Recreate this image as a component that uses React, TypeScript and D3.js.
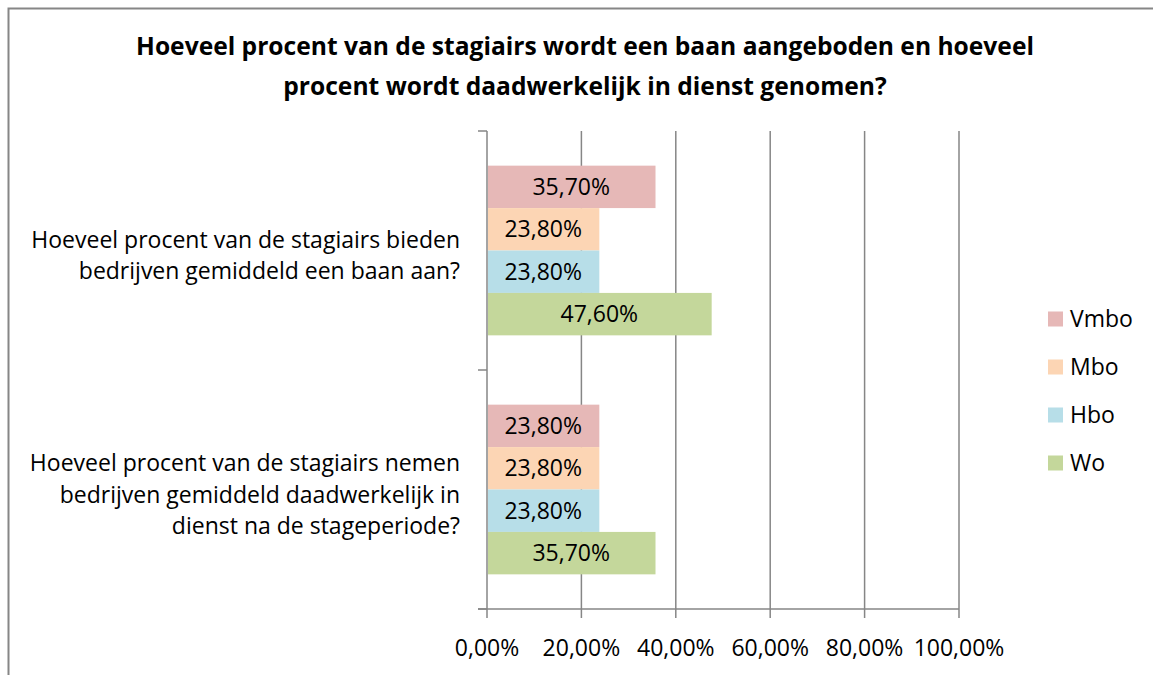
import { useRef, useEffect } from 'react';
import * as d3 from 'd3';

// Chart data
const titleLines = [
  'Hoeveel procent van de stagiairs wordt een baan aangeboden en hoeveel',
  'procent wordt daadwerkelijk in dienst genomen?',
];
const categories = ['bieden', 'nemen'];
const categoryLabels = [
  ['Hoeveel procent van de stagiairs bieden', 'bedrijven gemiddeld een baan aan?'],
  ['Hoeveel procent van de stagiairs nemen', 'bedrijven gemiddeld daadwerkelijk in', 'dienst na de stageperiode?'],
];
const seriesNames = ['Vmbo', 'Mbo', 'Hbo', 'Wo'];
const seriesColors = ['#e6b8b7', '#fcd5b4', '#b7dee8', '#c4d79b'];
const vmbo = [35.7, 23.8];
const mbo = [23.8, 23.8];
const hbo = [23.8, 23.8];
const wo = [47.6, 35.7];
const xTicks = [0, 20, 40, 60, 80, 100];

const seriesValues = [vmbo, mbo, hbo, wo];
const fmt = (v: number) => v.toFixed(2).replace('.', ',') + '%';

export default function App() {
  const svgRef = useRef<SVGSVGElement>(null);

  useEffect(() => {
    if (!svgRef.current) return;
    const svg = d3.select(svgRef.current);
    svg.selectAll('*').remove();

    const width = 1153;
    const height = 675;
    const font = '"Open Sans", sans-serif';
    const plot = { left: 487, right: 959, top: 131, bottom: 609 };
    const grid = '#868686';
    const fs = 23;

    svg.append('rect').attr('width', width).attr('height', height).attr('fill', '#fff');

    // outer border (only top and left visible in crop)
    svg.append('path')
      .attr('d', `M8.5,${height} V8.5 H${width}`)
      .attr('fill', 'none')
      .attr('stroke', '#868686')
      .attr('stroke-width', 2);

    // title
    svg.append('g')
      .selectAll('text')
      .data(titleLines)
      .join('text')
      .attr('x', 585)
      .attr('y', (_, i) => 55 + i * 40)
      .attr('text-anchor', 'middle')
      .attr('font-family', font)
      .attr('font-weight', 'bold')
      .attr('font-size', 24.6)
      .attr('fill', '#000')
      .text((d) => d);

    const x = d3.scaleLinear().domain([0, 100]).range([plot.left, plot.right]);
    const y = d3.scaleBand().domain(categories).range([plot.top, plot.bottom]).padding(0);
    const gap = y.bandwidth() * 0.145;
    const ys = d3.scaleBand()
      .domain(seriesNames)
      .range([gap, y.bandwidth() - gap])
      .padding(0);

    // vertical gridlines
    svg.append('g')
      .selectAll('line')
      .data(xTicks.slice(1))
      .join('line')
      .attr('x1', (d) => x(d))
      .attr('x2', (d) => x(d))
      .attr('y1', plot.top)
      .attr('y2', plot.bottom + 9)
      .attr('stroke', grid)
      .attr('stroke-width', 1.5);

    // x axis baseline + tick at 0
    svg.append('line')
      .attr('x1', plot.left - 9)
      .attr('x2', plot.right)
      .attr('y1', plot.bottom)
      .attr('y2', plot.bottom)
      .attr('stroke', grid)
      .attr('stroke-width', 1.5);
    svg.append('line')
      .attr('x1', plot.left)
      .attr('x2', plot.left)
      .attr('y1', plot.top)
      .attr('y2', plot.bottom + 9)
      .attr('stroke', grid)
      .attr('stroke-width', 1.5);

    // category ticks on y axis
    const catEdges = [plot.top, ...categories.map((c) => y(c)! + y.bandwidth())];
    svg.append('g')
      .selectAll('line')
      .data(catEdges)
      .join('line')
      .attr('x1', plot.left - 9)
      .attr('x2', plot.left)
      .attr('y1', (d) => d)
      .attr('y2', (d) => d)
      .attr('stroke', grid)
      .attr('stroke-width', 1.5);

    // bars
    categories.forEach((c, ci) => {
      const g = svg.append('g').attr('transform', `translate(0,${y(c)})`);
      seriesNames.forEach((s, si) => {
        const v = seriesValues[si][ci];
        g.append('rect')
          .attr('x', x(0) + 1)
          .attr('y', ys(s)!)
          .attr('width', x(v) - x(0) - 1)
          .attr('height', ys.bandwidth())
          .attr('fill', seriesColors[si]);
        g.append('text')
          .attr('x', (x(0) + x(v)) / 2)
          .attr('y', ys(s)! + ys.bandwidth() / 2)
          .attr('dy', '0.35em')
          .attr('text-anchor', 'middle')
          .attr('font-family', font)
          .attr('font-size', fs)
          .attr('fill', '#000')
          .text(fmt(v));
      });

      // category label
      const lines = categoryLabels[ci];
      const mid = y(c)! + y.bandwidth() / 2 + 5;
      const lh = 31.5;
      svg.append('g')
        .selectAll('text')
        .data(lines)
        .join('text')
        .attr('x', 460)
        .attr('y', (_, i) => mid + (i - (lines.length - 1) / 2) * lh)
        .attr('dy', '0.35em')
        .attr('text-anchor', 'end')
        .attr('font-family', font)
        .attr('font-size', fs)
        .attr('fill', '#000')
        .text((d) => d);
    });

    // x tick labels
    svg.append('g')
      .selectAll('text')
      .data(xTicks)
      .join('text')
      .attr('x', (d) => x(d))
      .attr('y', 648)
      .attr('dy', '0.35em')
      .attr('text-anchor', 'middle')
      .attr('font-family', font)
      .attr('font-size', fs)
      .attr('fill', '#000')
      .text((d) => fmt(d));

    // legend
    const legend = svg.append('g')
      .selectAll('g')
      .data(seriesNames)
      .join('g')
      .attr('transform', (_, i) => `translate(1048,${319 + i * 48})`);
    legend.append('rect')
      .attr('x', 0)
      .attr('y', -7.5)
      .attr('width', 15)
      .attr('height', 15)
      .attr('fill', (_, i) => seriesColors[i]);
    legend.append('text')
      .attr('x', 22)
      .attr('y', 0)
      .attr('dy', '0.35em')
      .attr('font-family', font)
      .attr('font-size', fs)
      .attr('fill', '#000')
      .text((d) => d);
  }, []);

  return (
    <svg
      ref={svgRef}
      width={1153}
      height={675}
      style={{ position: 'absolute', left: 0, top: 0, display: 'block' }}
    />
  );
}
